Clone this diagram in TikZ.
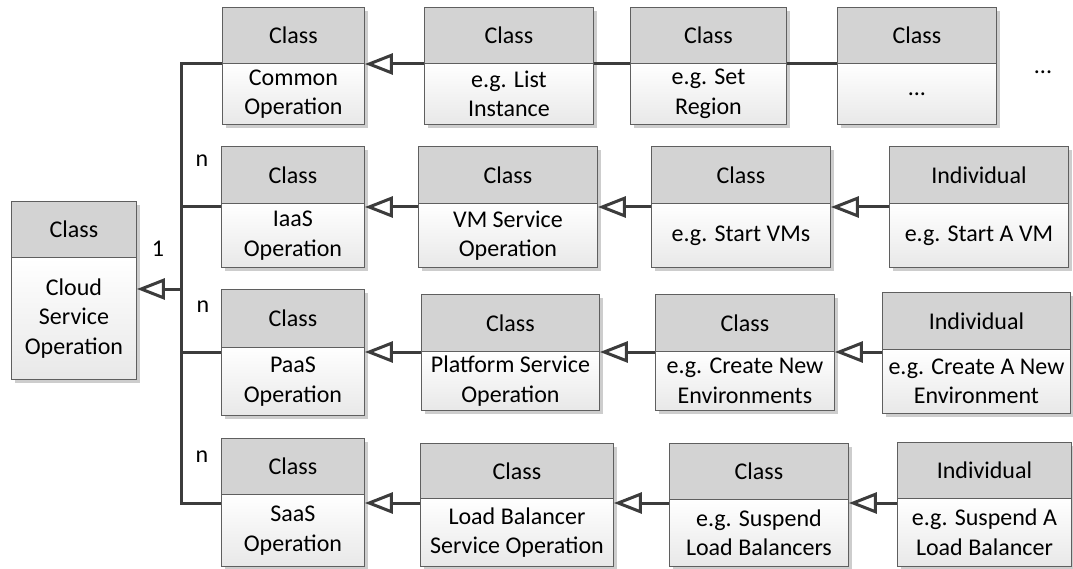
\documentclass[tikz,border=0pt]{standalone}
\usepackage{fontspec}
\setmainfont{Carlito}
\usetikzlibrary{arrows.meta}

\definecolor{linec}{RGB}{60,60,60}
\definecolor{edgec}{RGB}{95,95,95}
\definecolor{hdrc}{RGB}{211,211,211}
\definecolor{bodyb}{RGB}{232,232,232}
\definecolor{shadc}{RGB}{205,205,205}

\newcommand\boxfont{\fontsize{24}{29.5}\selectfont}

% UML-like box: name, left, top, right, header bottom, bottom, header, body
\newcommand\umlbox[8]{%
  \fill[shadc] (#2+4,#3+4) rectangle (#4+4,#6+4);
  \node[hdr, minimum width={(#4-#2)*1pt}, minimum height={(#5-#3)*1pt}] (#1h) at (#2,#3) {#7};
  \node[bdy, minimum width={(#4-#2)*1pt}, minimum height={(#6-#5)*1pt}] (#1) at (#2,#5) {#8};
}

\begin{document}
\begin{tikzpicture}[x=1pt,y=-1pt,
  hdr/.style={draw=edgec, line width=0.9pt, fill=hdrc, anchor=north west,
    inner sep=0pt, font=\boxfont},
  bdy/.style={draw=edgec, line width=0.9pt, top color=white, bottom color=bodyb,
    anchor=north west, inner sep=0pt, align=center, font=\boxfont},
  conn/.style={draw=linec, line width=3pt},
  gen/.style={conn, -{Triangle[open, length=28pt, width=21pt]}},
  lbl/.style={font=\boxfont, anchor=base, inner sep=0pt}]
\useasboundingbox (0,0) rectangle (1073,569);

% root class
\umlbox{M}{11}{201}{136}{257}{379}{Class}{Cloud\\Service\\Operation}

% row 1
\umlbox{A1}{222}{7}{364}{63}{124}{Class}{Common\\Operation}
\umlbox{A2}{424}{7}{593}{63}{124}{Class}{e.g. List\\Instance}
\umlbox{A3}{630}{7}{786}{63}{124}{Class}{e.g. Set\\Region}
\umlbox{A4}{837}{7}{996}{63}{124}{Class}{...}

% row 2
\umlbox{B1}{221}{146}{364}{203}{267}{Class}{IaaS\\Operation}
\umlbox{B2}{418}{146}{597}{203}{267}{Class}{VM Service\\Operation}
\umlbox{B3}{651}{146}{830}{203}{267}{Class}{e.g. Start VMs}
\umlbox{B4}{889}{146}{1068}{203}{267}{Individual}{e.g. Start A VM}

% row 3
\umlbox{C1}{221}{289}{364}{347}{415}{Class}{PaaS\\Operation}
\umlbox{C2}{421}{294}{599}{351}{410}{Class}{Platform Service\\Operation}
\umlbox{C3}{655}{294}{834}{351}{410}{Class}{e.g. Create New\\Environments}
\umlbox{C4}{882}{292}{1070}{349}{413}{Individual}{e.g. Create A New\\Environment}

% row 4
\umlbox{D1}{221}{438}{364}{494}{566}{Class}{SaaS\\Operation}
\umlbox{D2}{420}{443}{613}{498}{566}{Class}{Load Balancer\\Service Operation}
\umlbox{D3}{669}{443}{848}{499}{566}{Class}{e.g. Suspend\\Load Balancers}
\umlbox{D4}{897}{442}{1071}{498}{566}{Individual}{e.g. Suspend A\\Load Balancer}

% connector levels
\coordinate (rowA) at (0,64);
\coordinate (rowB) at (0,207);
\coordinate (rowC) at (0,352);
\coordinate (rowD) at (0,503);
\coordinate (bustop) at (181,64);
\coordinate (busbot) at (181,503);
\coordinate (busmid) at (181,289);

% composition bus
\draw[conn] (A1.west |- rowA) -- (bustop) -- (busbot) -- (D1.west |- rowD);
\draw[conn] (bustop |- rowB) -- (B1.west |- rowB);
\draw[conn] (bustop |- rowC) -- (C1.west |- rowC);
\draw[gen] (busmid) -- (M.east |- busmid);

% row 1 links
\draw[gen] (A2.west |- rowA) -- (A1.east |- rowA);
\draw[conn] (A2.east |- rowA) -- (A3.west |- rowA);
\draw[conn] (A3.east |- rowA) -- (A4.west |- rowA);

% row 2 links
\draw[gen] (B2.west |- rowB) -- (B1.east |- rowB);
\draw[gen] (B3.west |- rowB) -- (B2.east |- rowB);
\draw[gen] (B4.west |- rowB) -- (B3.east |- rowB);

% row 3 links
\draw[gen] (C2.west |- rowC) -- (C1.east |- rowC);
\draw[gen] (C3.west |- rowC) -- (C2.east |- rowC);
\draw[gen] (C4.west |- rowC) -- (C3.east |- rowC);

% row 4 links
\draw[gen] (D2.west |- rowD) -- (D1.east |- rowD);
\draw[gen] (D3.west |- rowD) -- (D2.east |- rowD);
\draw[gen] (D4.west |- rowD) -- (D3.east |- rowD);

% multiplicities
\node[lbl] (one) at (158,257) {1};
\node[lbl] (nB) at (202,167) {n};
\node[lbl] (nC) at (203,312) {n};
\node[lbl] (nD) at (202,462) {n};
\node[lbl] (more) at (1043,74) {...};
\end{tikzpicture}
\end{document}
